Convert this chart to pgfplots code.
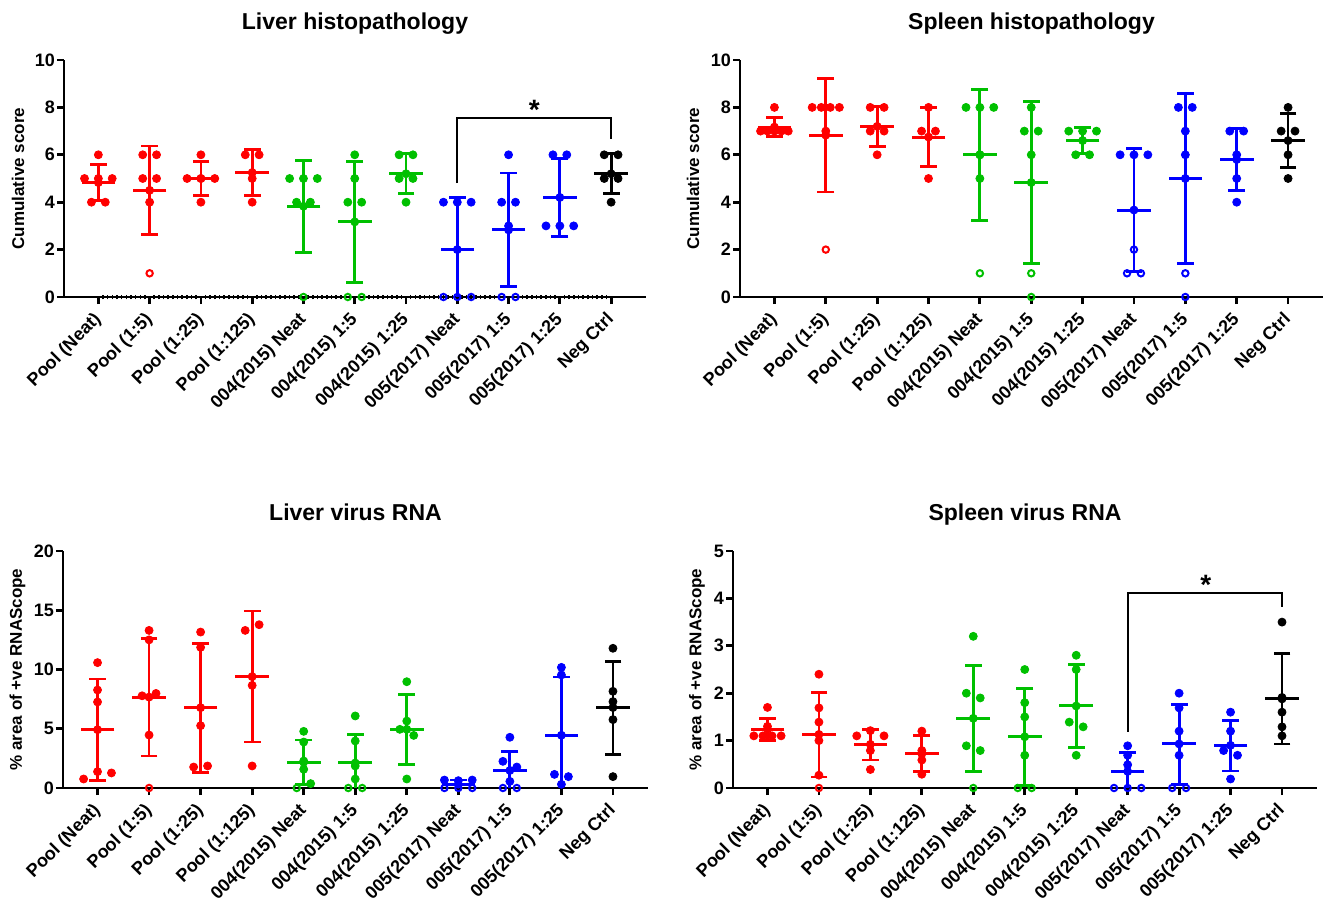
\documentclass[border=0pt]{standalone}
\usepackage{fontspec}
\setmainfont{Liberation Sans}
\usepackage{pgfplots}
\usepackage{pgfplotstable}
\pgfplotsset{compat=1.18}
\definecolor{cR}{RGB}{255,0,0}
\definecolor{cG}{RGB}{0,192,0}
\definecolor{cB}{RGB}{0,0,255}
\definecolor{cK}{RGB}{0,0,0}

% mean, lower and upper end of the SD bar for each group
\pgfplotstableread{
x  m    lo   hi
0  4.83 4.08 5.59
1  4.50 2.63 6.37
2  5.00 4.29 5.71
3  5.25 4.29 6.21
4  3.83 1.89 5.77
5  3.17 0.60 5.73
6  5.20 4.36 6.04
7  2.00 0.00 4.19
8  2.83 0.43 5.23
9  4.20 2.56 5.84
10 5.20 4.36 6.04
}\sumLH
\pgfplotstableread{
x  m    lo   hi
0  7.17 6.76 7.58
1  6.83 4.43 9.23
2  7.20 6.36 8.04
3  6.75 5.49 8.01
4  6.00 3.24 8.76
5  4.83 1.40 8.26
6  6.60 6.05 7.15
7  3.67 1.09 6.25
8  5.00 1.42 8.58
9  5.80 4.50 7.10
10 6.60 5.46 7.74
}\sumSH
\pgfplotstableread{
x  m    lo   hi
0  4.92 0.64 9.20
1  7.67 2.70 12.63
2  6.78 1.32 12.21
3  9.40 3.88 14.94
4  2.17 0.28 4.05
5  2.11 0.00 4.53
6  4.95 2.00 7.90
7  0.32 0.00 0.67
8  1.48 0.00 3.09
9  4.45 0.00 9.37
10 6.79 2.84 10.69
}\sumLR
\pgfplotstableread{
x  m    lo   hi
0  1.24 1.01 1.47
1  1.13 0.23 2.02
2  0.92 0.59 1.24
3  0.72 0.34 1.10
4  1.47 0.34 2.59
5  1.08 0.05 2.10
6  1.73 0.86 2.61
7  0.35 0.00 0.75
8  0.93 0.08 1.77
9  0.90 0.36 1.43
10 1.88 0.93 2.84
}\sumSR

\pgfplotsset{
  fp/.style={only marks, mark=*, mark size=2pt, color=#1,
    mark options={solid, fill=#1, draw=#1, line width=0.4pt}},
  op/.style={only marks, mark=o, mark size=1.6pt, color=#1,
    mark options={solid, draw=#1, line width=1pt}},
  ylab/.style={every axis y label/.style={at={(axis description cs:0,0.5)},
    xshift=#1, rotate=90, anchor=center,
    font=\bfseries\fontsize{8.5}{10}\selectfont}},
  panel/.style={
    scale only axis, width=291pt, height=118.5pt,
    xmin=-0.67, xmax=10.68, ymin=0,
    clip=false,
    axis lines*=left,
    axis line style={line width=1.4pt},
    tick style={line width=1.4pt, black},
    major tick length=3.5pt,
    tick align=outside,
    xtick={0,...,10},
    xticklabels={Pool (Neat),Pool (1:5),Pool (1:25),Pool (1:125),004(2015) Neat,004(2015) 1:5,004(2015) 1:25,005(2017) Neat,005(2017) 1:5,005(2017) 1:25,Neg Ctrl},
    tick label style={font=\bfseries\fontsize{9}{10}\selectfont},
    x tick label style={xshift=2.5pt, yshift=-4pt, rotate=45, anchor=east},
    y tick label style={xshift=2.5pt},
    /pgf/number format/assume math mode=true,
    title style={anchor=base, yshift=9pt, font=\bfseries\fontsize{11.5}{13}\selectfont},
  },
}

\newcommand{\grp}[3]{%
  \addplot[#2, only marks, mark=none, restrict x to domain=#3,
    error bars/.cd, y dir=both, y explicit, error mark=none,
    error bar style={line width=1.4pt, #2}]
    table[x=x, y=m, y error plus expr=\thisrow{hi}-\thisrow{m},
          y error minus expr=\thisrow{m}-\thisrow{lo}] {#1};
  \addplot[#2, only marks, mark=-, mark size=4.2pt, mark options={line width=1.4pt},
    restrict x to domain=#3] table[x=x, y=hi] {#1};
  \addplot[#2, only marks, mark=-, mark size=4.2pt, mark options={line width=1.4pt},
    restrict x to domain=#3, restrict y to domain=0.001:1000] table[x=x, y=lo] {#1};
  \addplot[#2, only marks, mark=-, mark size=8.4pt, mark options={line width=1.5pt},
    restrict x to domain=#3] table[x=x, y=m] {#1};
}
\newcommand{\allgrps}[1]{%
  \grp{#1}{cR}{-0.5:3.5}\grp{#1}{cG}{3.5:6.5}\grp{#1}{cB}{6.5:9.5}\grp{#1}{cK}{9.5:10.5}}

\begin{document}
\begin{tikzpicture}
\path[use as bounding box] (0,0) rectangle (665pt,450.5pt);

% ---------------- Liver histopathology
\begin{axis}[panel, at={(32pt,302pt)}, anchor=south west,
  ymax=10, ytick={0,2,...,10},
  minor x tick num=10, minor tick length=2.4pt,
  every minor tick/.append style={line width=0.8pt, yshift=1.2pt},
  title={Liver histopathology}, ylabel={Cumulative score}, ylab=-23pt]
\allgrps{\sumLH}
\addplot[fp=cR] coordinates {(0,6)(-0.27,5)(0,5)(0.27,5)(-0.135,4)(0.135,4)
  (0.865,6)(1.135,6)(0.865,5)(1.135,5)(1,4)
  (2,6)(1.73,5)(2,5)(2.27,5)(2,4)
  (2.865,6)(3.135,6)(3,5)(3,4)};
\addplot[op=cR] coordinates {(1,1)};
\addplot[fp=cG] coordinates {(3.73,5)(4,5)(4.27,5)(3.865,4)(4.135,4)
  (5,6)(5,5)(4.865,4)(5.135,4)
  (5.865,6)(6.135,6)(5.865,5)(6.135,5)(6,4)};
\addplot[op=cG] coordinates {(4,0)(4.865,0)(5.135,0)};
\addplot[fp=cB] coordinates {(6.73,4)(7,4)(7.27,4)
  (8,6)(7.865,4)(8.135,4)(8,3)
  (8.865,6)(9.135,6)(8.73,3)(9,3)(9.27,3)};
\addplot[op=cB] coordinates {(6.73,0)(7,0)(7.27,0)(7.865,0)(8.135,0)};
\addplot[fp=cK] coordinates {(9.865,6)(10.135,6)(9.865,5)(10.135,5)(10,4)};
\draw[line width=1pt] (axis cs:7,4.8) |- (axis cs:10,7.57) -- (axis cs:10,6.65);
\node[anchor=base, font=\bfseries\fontsize{14}{14}\selectfont] at (axis cs:8.5,7.51) {*};
\end{axis}

% ---------------- Spleen histopathology
\begin{axis}[panel, at={(370pt,302pt)}, anchor=south west, width=291.5pt,
  ymax=10, ytick={0,2,...,10},
  title={Spleen histopathology}, ylabel={Cumulative score}, ylab=-23.5pt]
\allgrps{\sumSH}
\addplot[fp=cR] coordinates {(0,8)(-0.27,7)(-0.135,7)(0,7)(0.135,7)(0.27,7)
  (0.735,8)(0.912,8)(1.088,8)(1.265,8)(1,7)
  (1.865,8)(2.135,8)(1.865,7)(2.135,7)(2,6)
  (3,8)(2.865,7)(3.135,7)(3,5)};
\addplot[op=cR] coordinates {(1,2)};
\addplot[fp=cG] coordinates {(3.73,8)(4,8)(4.27,8)(4,6)(4,5)
  (5,8)(4.865,7)(5.135,7)(5,6)
  (5.73,7)(6,7)(6.27,7)(5.865,6)(6.135,6)};
\addplot[op=cG] coordinates {(4,1)(5,1)(5,0)};
\addplot[fp=cB] coordinates {(6.73,6)(7,6)(7.27,6)
  (7.865,8)(8.135,8)(8,7)(8,6)
  (8.865,7)(9.135,7)(9,6)(9,5)(9,4)};
\addplot[op=cB] coordinates {(7,2)(6.865,1)(7.135,1)(8,1)(8,0)};
\addplot[fp=cK] coordinates {(10,8)(9.865,7)(10.135,7)(10,6)(10,5)};
\end{axis}

% ---------------- Liver virus RNA
\begin{axis}[panel, at={(31.5pt,56.5pt)}, anchor=south west, width=292.5pt,
  ymax=20, ytick={0,5,...,20},
  title={Liver virus RNA}, ylabel={\% area of +ve RNAScope}, ylab=-22.75pt]
\allgrps{\sumLR}
\addplot[fp=cR] coordinates {(0,10.58)(0,8.27)(0,7.26)(0,1.38)(0.27,1.27)(-0.27,0.76)
  (1,13.3)(1,12.5)(0.865,7.78)(1.135,7.98)(1,4.47)
  (2,13.16)(2,11.87)(2,5.26)(1.865,1.77)(2.135,1.86)
  (2.865,13.3)(3.135,13.78)(3,8.66)(3,1.86)};
\addplot[op=cR] coordinates {(1,0)};
\addplot[fp=cG] coordinates {(4,4.78)(4,3.88)(4,2.28)(4,1.58)(4.135,0.37)
  (5,6.08)(5,3.97)(5,1.86)(5,0.76)
  (6,8.97)(6,5.65)(5.865,4.95)(6.135,4.44)(6,0.76)};
\addplot[op=cG] coordinates {(3.865,0)(4.865,0)(5.135,0)};
\addplot[fp=cB] coordinates {(6.73,0.67)(7,0.62)(7.27,0.67)
  (8,4.28)(7.865,2.25)(8.135,1.77)(8,0.56)
  (9,10.18)(9,9.54)(8.865,1.15)(9.135,0.96)(9,0.31)};
\addplot[op=cB] coordinates {(6.73,0)(7,0)(7.27,0)(7.865,0)(8.135,0)};
\addplot[fp=cK] coordinates {(10,11.79)(10,8.16)(10,7.29)(10,5.77)(10,0.96)};
\end{axis}

% ---------------- Spleen virus RNA
\begin{axis}[panel, at={(366.5pt,56.5pt)}, anchor=south west, width=292pt,
  ymax=5, ytick={0,1,...,5},
  title={Spleen virus RNA}, ylabel={\% area of +ve RNAScope}, ylab=-18pt]
\allgrps{\sumSR}
\addplot[fp=cR] coordinates {(0,1.7)(0,1.3)(-0.265,1.1)(-0.088,1.1)(0.088,1.1)(0.265,1.1)
  (1,2.4)(1,1.69)(1,1.39)(1,1.0)(1,0.27)
  (1.735,1.1)(2,1.21)(2.265,1.1)(2,0.79)(2,0.39)
  (3,1.2)(3,0.79)(3,0.59)(3,0.29)};
\addplot[op=cR] coordinates {(1,0)};
\addplot[fp=cG] coordinates {(4,3.2)(3.865,2.0)(4.135,1.9)(3.865,0.89)(4.135,0.79)
  (5,2.5)(5,1.8)(5,1.5)(5,0.69)
  (6,2.8)(6,2.5)(5.865,1.39)(6.135,1.29)(6,0.69)};
\addplot[op=cG] coordinates {(4,0)(4.865,0)(5.135,0)};
\addplot[fp=cB] coordinates {(7,0.89)(7,0.69)(7,0.49)
  (8,2.0)(8,1.69)(8,1.2)(8,0.69)
  (9,1.6)(9,1.2)(8.865,0.79)(9.135,0.69)(9,0.19)};
\addplot[op=cB] coordinates {(6.735,0)(7,0)(7.265,0)(7.865,0)(8.135,0)};
\addplot[fp=cK] coordinates {(10,3.5)(10,1.91)(10,1.6)(10,1.29)(10,1.1)};
\draw[line width=1pt] (axis cs:7,1.19) |- (axis cs:10,4.11) -- (axis cs:10,3.81);
\node[anchor=base, font=\bfseries\fontsize{14}{14}\selectfont] at (axis cs:8.52,4.08) {*};
\end{axis}
\end{tikzpicture}
\end{document}
